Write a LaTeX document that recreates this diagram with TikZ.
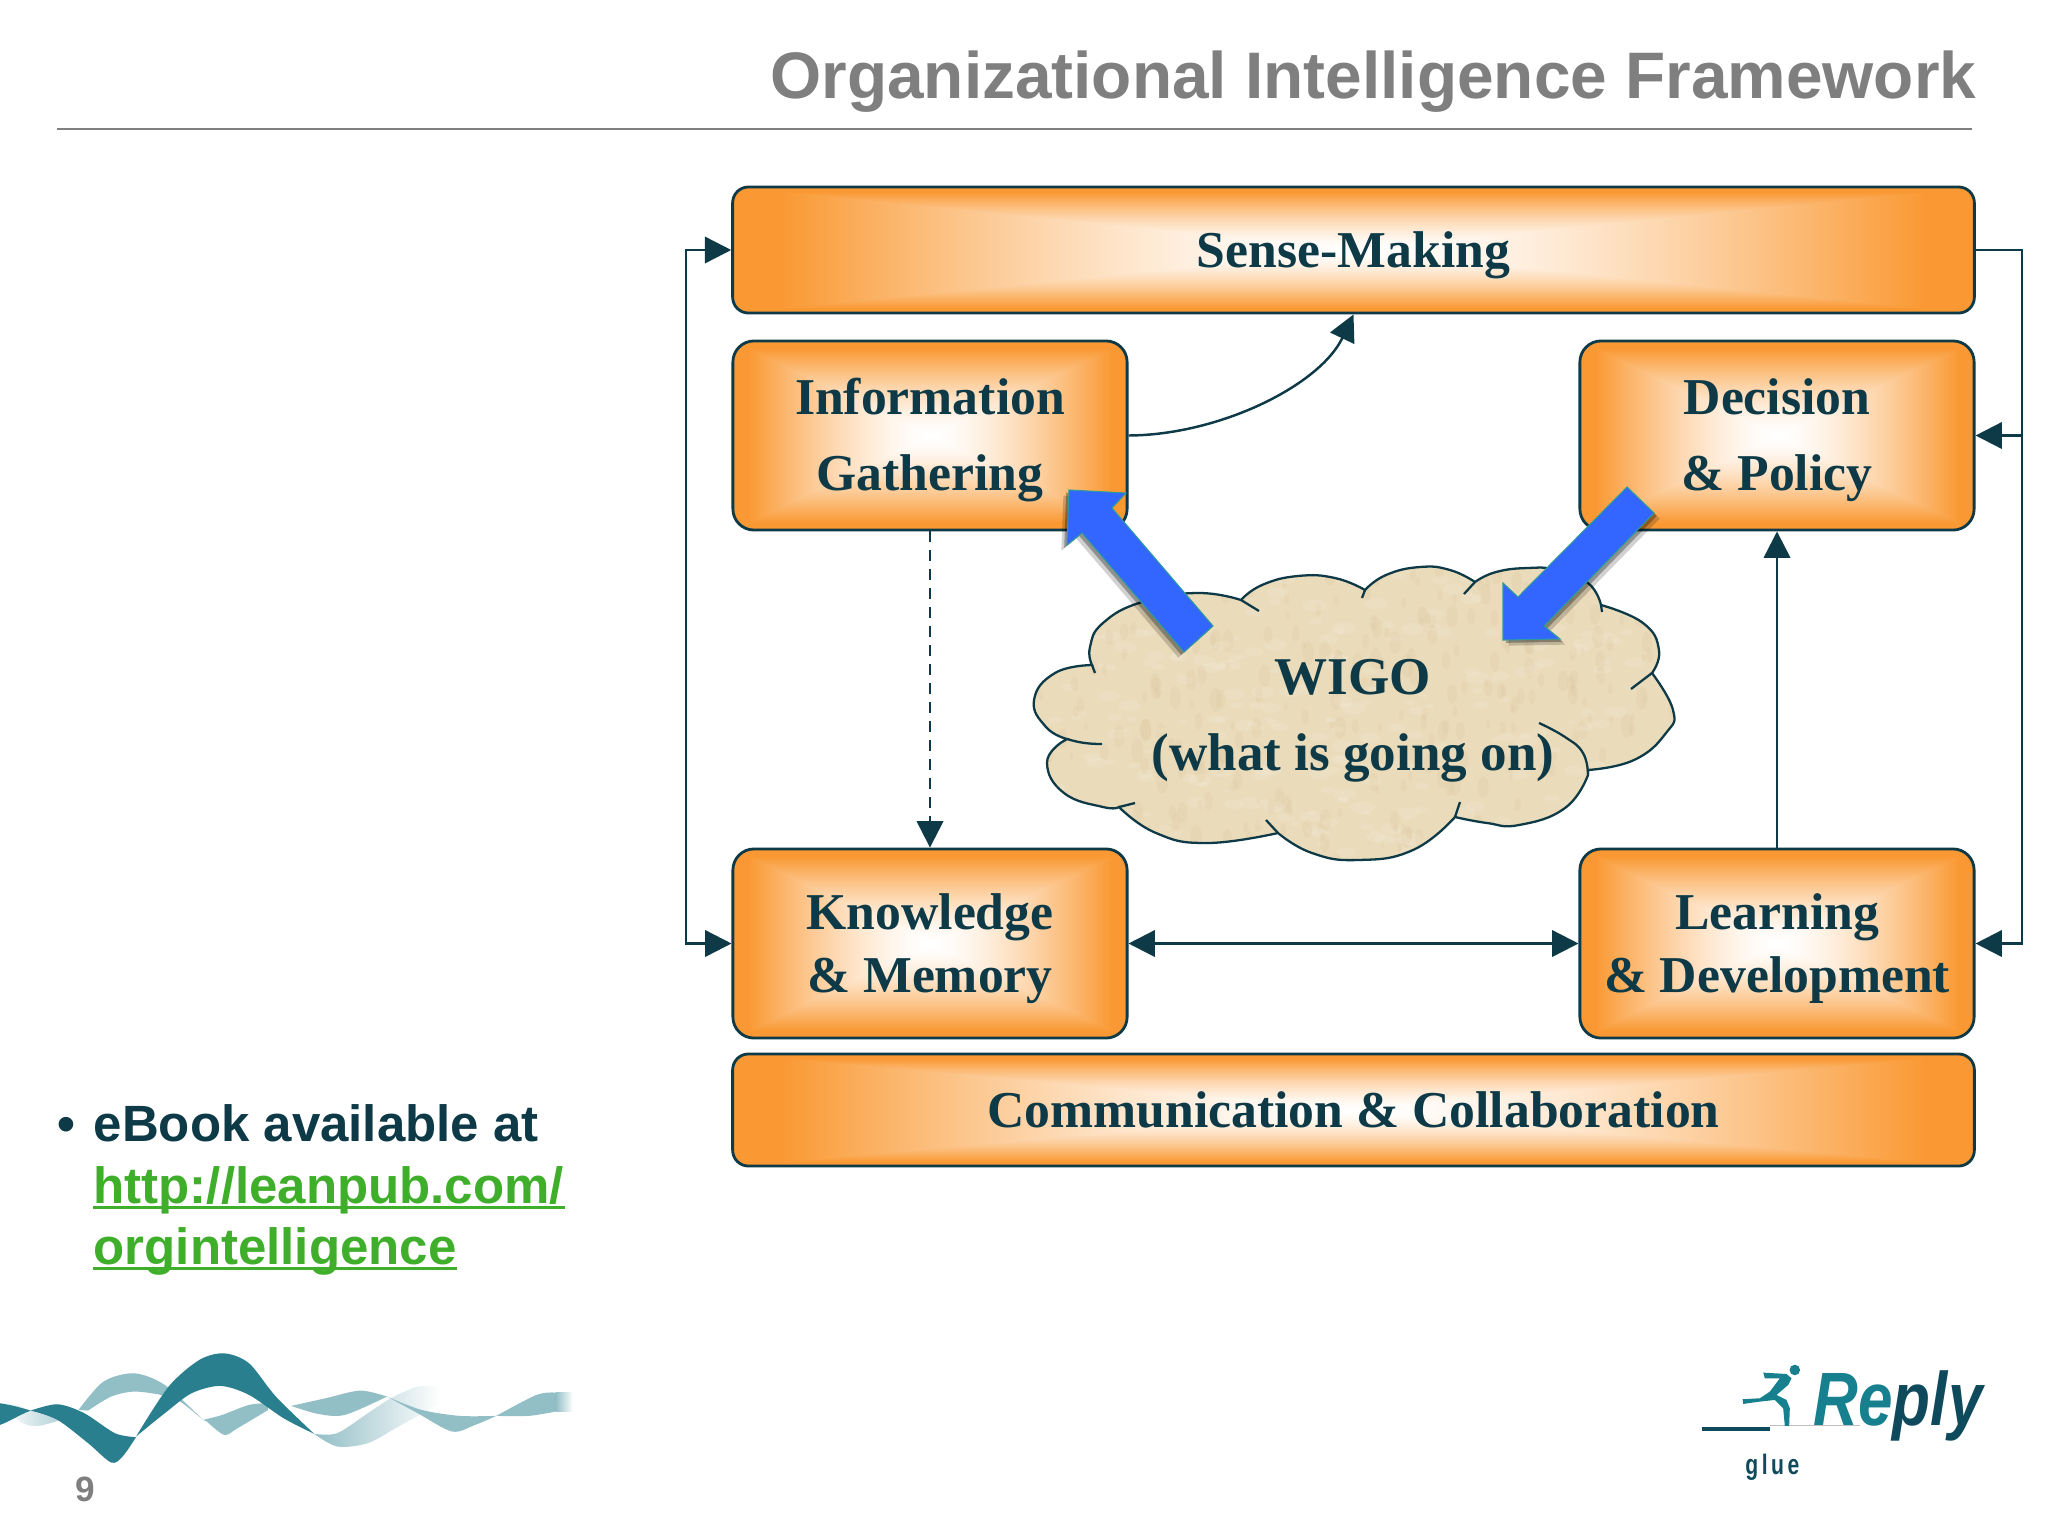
\documentclass[tikz,border=0pt]{standalone}
\usepackage{fontspec}
\setmainfont{Liberation Sans}
\newfontfamily\labelfont{Liberation Serif}
\usepackage{tikz}
\usetikzlibrary{arrows.meta,shadows}

\definecolor{inkteal}{HTML}{0E3A47}
\definecolor{titlegrey}{HTML}{7F7F7F}
\definecolor{linkgreen}{HTML}{3FAE2A}
\definecolor{cloudtan}{HTML}{EADBBA}
\definecolor{arrowblue}{HTML}{3366FF}
\definecolor{arrowedge}{HTML}{2E9A9A}
\definecolor{waveteal}{HTML}{2A7F8F}
\definecolor{wavelight}{HTML}{92BEC6}
\definecolor{logoteal}{HTML}{16808F}
\definecolor{logodark}{HTML}{0E4A5C}

\newcommand{\firstline}{\rule{0pt}{13pt}}

\pgfdeclarefunctionalshading{boxglow}{\pgfpoint{-50bp}{-50bp}}{\pgfpoint{50bp}{50bp}}{}{
  abs exch abs 2 copy gt {pop} {exch pop} ifelse
  23 div dup 1 gt {pop 1} if
  dup sqrt mul
  dup 0.02 mul 1 exch sub exch
  dup 0.40 mul 1 exch sub exch
  0.80 mul 1 exch sub
}

\tikzset{
  panel/.style={draw=inkteal,line width=.8pt,shade,shading=boxglow,rounded corners=6pt,
    inner sep=0pt,align=center,text=inkteal,
    font=\labelfont\bfseries\fontsize{14.7}{17.9}\selectfont},
  flow/.style={draw=inkteal,line width=.7pt,-{Triangle[length=7.5pt,width=7.5pt]}},
  bothflow/.style={flow,{Triangle[length=7.5pt,width=7.5pt]}-{Triangle[length=7.5pt,width=7.5pt]}},
  cloudline/.style={draw=inkteal,line width=.65pt},
  bigarrow/.style={fill=arrowblue,draw=arrowedge,line width=.3pt,
    drop shadow={shadow xshift=#1*1.6pt,shadow yshift=-1.6pt,fill=black,opacity=.18},
    drop shadow={shadow xshift=#1*.8pt,shadow yshift=-.8pt,fill=black,opacity=.3}},
  wavedark/.style={fill=waveteal,draw=none},
  wavepale/.style={fill=wavelight,draw=none},
  lobe/.style={smooth,tension=.8},
  sidetext/.style={anchor=base west,inner sep=0pt,font=\bfseries\fontsize{14.5}{17.4}\selectfont},
  urlline/.style={linkgreen,line width=.7pt}
}

\begin{document}
\begin{tikzpicture}[x=0.01cm,y=-0.01cm]
  \useasboundingbox (0,0) rectangle (2048,1536);
  \fill[white] (0,0) rectangle (2048,1536);

  % heading
  \node (heading) [anchor=base east,inner sep=0pt,text=titlegrey,font=\bfseries\fontsize{18.7}{22}\selectfont] at (1977,98) {Organizational Intelligence Framework};
  \draw[titlegrey,line width=.5pt] (57,129) -- (1972,129);

  % boxes
  \node (sensemaking) [panel,minimum width=12.41cm,minimum height=1.26cm,rounded corners=4.5pt] at (1353.5,250) {\firstline Sense-Making};
  \node (information) [panel,minimum width=3.94cm,minimum height=1.89cm] at (930,435.5) {\firstline Information\\[3.7pt]Gathering};
  \node (decision) [panel,minimum width=3.94cm,minimum height=1.89cm] at (1777,435.5) {\firstline Decision\\[3.7pt]\& Policy};
  \node (knowledge) [panel,minimum width=3.94cm,minimum height=1.89cm] at (930,943.5) {\firstline Knowledge\\\& Memory};
  \node (learning) [panel,minimum width=3.94cm,minimum height=1.89cm] at (1777,943.5) {\firstline Learning\\\& Development};
  \node (communication) [panel,minimum width=12.41cm,minimum height=1.12cm,rounded corners=4.5pt] at (1353.5,1110) {Communication \& Collaboration};

  % connectors
  \coordinate (railleft) at (686,600);
  \coordinate (railright) at (2022,600);
  \draw[bothflow] (sensemaking.west) -| (railleft) |- (knowledge.west);
  \draw[flow] (sensemaking.east) -| (railright) |- (learning.east);
  \draw[flow] (railright |- decision.east) -- (decision.east);
  \draw[flow] (information.east) .. controls (1220,435) and (1320,385) .. (sensemaking.south);
  \draw[flow,dash pattern=on 3pt off 2.4pt] (information.south) -- (knowledge.north);
  \draw[flow] (learning.north) -- (decision.south);
  \draw[bothflow] (knowledge.east) -- (learning.west);

  % cloud
  \pgfmathsetseed{9}
  \draw[cloudline,fill=cloudtan,path picture={
      \foreach \i in {1,...,320}{
        \pgfmathsetmacro{\px}{1030+rnd*650}
        \pgfmathsetmacro{\py}{565+rnd*300}
        \pgfmathsetmacro{\pr}{1+rnd*2.5}
        \fill[white,opacity=.1] (\px,\py) circle (\pr pt and .5*\pr pt);
        \pgfmathsetmacro{\px}{1030+rnd*650}
        \pgfmathsetmacro{\py}{565+rnd*300}
        \pgfmathsetmacro{\pr}{1+rnd*2.5}
        \fill[brown,opacity=.05] (\px,\py) circle (.5*\pr pt and \pr pt);
      }}]
    plot[lobe] coordinates {(1092,665) (1055,673) (1034,700) (1046,727) (1067,739)}
    -- plot[lobe] coordinates {(1062,742) (1047,763) (1064,793) (1103,807) (1119,807)}
    -- plot[lobe] coordinates {(1119,807) (1156,833) (1207,843) (1278,833)}
    -- plot[lobe] coordinates {(1278,833) (1312,853) (1358,860) (1413,850) (1455,817)}
    -- plot[lobe] coordinates {(1455,817) (1487,823) (1519,825) (1565,808) (1588,775)}
    -- plot[lobe] coordinates {(1588,770) (1634,760) (1666,733) (1673,710) (1652,673)}
    -- plot[lobe] coordinates {(1652,673) (1659,650) (1643,623) (1601,605)}
    -- plot[lobe] coordinates {(1601,605) (1588,583) (1556,570) (1528,568) (1496,572) (1475,582)}
    -- plot[lobe] coordinates {(1475,582) (1450,570) (1420,567) (1386,575) (1365,590)}
    -- plot[lobe] coordinates {(1365,590) (1335,578) (1298,576) (1262,585) (1241,600)}
    -- plot[lobe] coordinates {(1241,600) (1197,593) (1142,602) (1103,623) (1090,647) (1092,665)}
    -- cycle;
  \draw[cloudline] (1092,665) -- (1095,673);
  \draw[cloudline] (1067,739) .. controls (1080,743) and (1090,744) .. (1102,744);
  \draw[cloudline] (1119,807) -- (1135,803);
  \draw[cloudline] (1278,833) -- (1266,820);
  \draw[cloudline] (1455,817) -- (1460,802);
  \draw[cloudline] plot[lobe] coordinates {(1588,775) (1583,753) (1565,737) (1539,723)};
  \draw[cloudline] (1652,673) -- (1631,689);
  \draw[cloudline] (1601,605) -- (1602,612);
  \draw[cloudline] (1475,582) -- (1464,594);
  \draw[cloudline] (1365,590) -- (1362,598);
  \draw[cloudline] (1241,600) -- (1259,611);
  \node (wigo) [inner sep=0pt,align=center,text=inkteal,font=\labelfont\bfseries\fontsize{15.1}{21.6}\selectfont] at (1353,720.5) {WIGO\\(what is going on)};

  % blue arrows
  \draw[bigarrow=-1] (1069,490) -- (1126,493) -- (1112,508) -- (1213,626) -- (1184,652) -- (1082,533) -- (1067,545) -- cycle;
  \draw[bigarrow=1] (1503,640) -- (1503,583) -- (1518,597) -- (1627,487) -- (1654,513) -- (1544,626) -- (1560,639) -- cycle;

  % bullet text
  \node (bulletmark) [sidetext,text=inkteal] at (57,1141) {•};
  \node (ebook) [sidetext,text=inkteal] at (93,1141) {eBook available at};
  \node (urlone) [sidetext,text=linkgreen] at (93,1203) {http://leanpub.com/};
  \node (urltwo) [sidetext,text=linkgreen] at (93,1264) {orgintelligence};
  \draw[urlline] ([yshift=-1.3pt]urlone.base west) -- ([yshift=-1.3pt]urlone.base east);
  \draw[urlline] ([yshift=-1.3pt]urltwo.base west) -- ([yshift=-1.3pt]urltwo.base east);

  % wave ribbon
  \begin{scope}[shift={(0,1340)},x=0.00383cm,y=-0.00333cm]
    \shade[left color=wavelight,right color=white] plot[smooth] coordinates {(820,282) (880,280) (960,220) (1020,175) (1090,140) (1150,140)} -- plot[smooth] coordinates {(1150,190) (1040,260) (960,310) (880,320) (820,282)} -- cycle;
    \shade[left color=white,right color=wavelight!70] plot[smooth] coordinates {(0,175) (80,212) (160,240)} -- plot[smooth] coordinates {(160,240) (100,258) (60,250) (0,200)} -- cycle;
    \path[wavepale] plot[smooth] coordinates {(205,210) (270,125) (350,100) (430,135) (530,240)} -- plot[smooth] coordinates {(530,240) (470,185) (420,165) (350,155) (290,170) (230,212)} -- cycle;
    \path[wavepale] plot[smooth] coordinates {(530,240) (580,225) (650,195) (700,190)} -- plot[smooth] coordinates {(700,210) (620,265) (585,285) (540,245)} -- cycle;
    \path[wavepale] plot[smooth] coordinates {(760,198) (850,175) (940,152) (1010,170)} -- plot[smooth] coordinates {(1010,170) (900,225) (830,222) (760,198)} -- cycle;
    \path[wavepale] plot[smooth] coordinates {(1010,170) (1100,210) (1200,228) (1295,228)} -- plot[smooth] coordinates {(1295,228) (1240,255) (1180,275) (1090,220) (1010,170)} -- cycle;
    \path[wavepale] plot[smooth] coordinates {(1295,228) (1400,165) (1450,158)} -- plot[smooth] coordinates {(1450,215) (1380,228) (1295,228)} -- cycle;
    \shade[left color=wavelight,right color=white] (1450,158) rectangle (1495,215);
    \path[wavedark] (0,190) .. controls (30,195) and (60,205) .. (80,212) .. controls (50,225) and (25,245) .. (0,255) -- cycle;
    \path[wavedark] plot[smooth] coordinates {(80,212) (150,193) (220,220) (300,280) (355,292)} -- plot[smooth] coordinates {(355,292) (320,350) (290,368) (230,310) (150,240) (80,212)} -- cycle;
    \path[wavedark] plot[smooth] coordinates {(355,290) (440,140) (520,60) (585,40) (650,70) (720,170) (820,282)} -- plot[smooth] coordinates {(820,282) (740,235) (650,165) (575,138) (500,160) (430,220) (355,290)} -- cycle;
  \end{scope}
  \node (pagenumber) [inner sep=0pt,text=titlegrey,font=\bfseries\fontsize{10}{12}\selectfont] at (85,1489) {9};

  % logo
  \begin{scope}[shift={(1680,1350)},x=0.00333cm,y=-0.00333cm]
    \draw[logodark,line width=1.3pt] (65,237) -- (270,237);
    \draw[black!25,line width=.3pt] (270,228) -- (540,228);
    \fill[logoteal] (345,60) circle (1.5pt);
    \fill[logoteal] (250,68) -- (320,72) -- (335,85) -- (325,105) -- (290,135) -- (320,150) -- (330,175) -- (328,228) -- (315,228) -- (310,175) -- (285,150) -- (240,155) -- (190,162) -- (188,148) -- (240,145) -- (270,125) -- (300,85) -- (255,85) -- cycle;
    \node (replyword) [anchor=base west,inner sep=0pt,xscale=.82,font=\bfseries\itshape\fontsize{21.5}{24}\selectfont] at (400,228) {\textcolor{logoteal}{Re}\textcolor{logodark}{ply}};
    \node (glueword) [anchor=base west,inner sep=0pt,xscale=.75,text=logodark,font=\bfseries\fontsize{8}{9}\selectfont] at (195,375) {g\,l\,u\,e};
  \end{scope}
\end{tikzpicture}
\end{document}
